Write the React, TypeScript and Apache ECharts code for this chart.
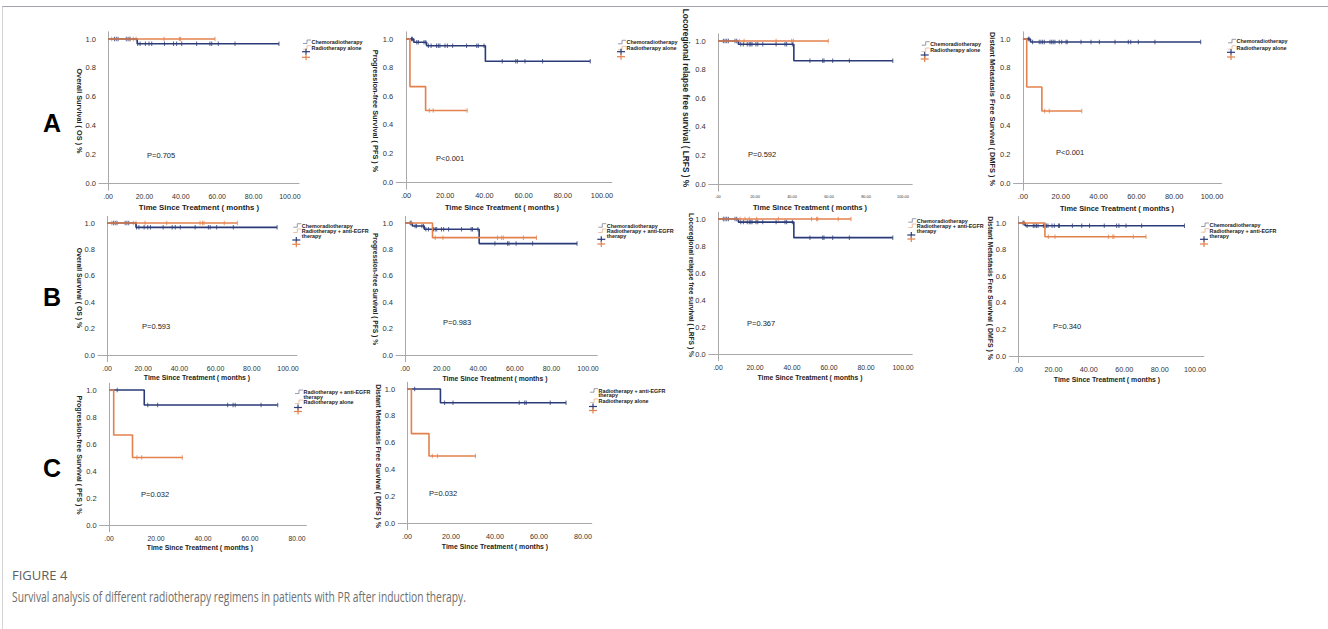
import React, { useEffect, useRef } from "react";
import * as echarts from "echarts";

// ---------------- DATA ----------------
// events: [time (months), survival after the event]; censored: censoring times; end: last follow-up
// Chemoradiotherapy
const crtOsEvents = [[16, 0.967]];
const crtOsCensored = [3.5, 4.5, 5.5, 10, 11, 12, 16.3, 17.6, 20.5, 22.5, 24, 31, 36, 37.7, 40.5, 48.7, 56, 57, 60.6, 69.8, 94];
const crtOsEnd = 94;
const crtPfsEvents = [[4, 0.977], [10.5, 0.953], [40.5, 0.844]];
const crtPfsCensored = [2.8, 3.3, 5.5, 6.3, 9.2, 10.1, 11.4, 12.8, 15.6, 16.5, 17.3, 19.9, 21.1, 23.8, 30.9, 36.1, 36.9, 39.8, 49.1, 56, 56.8, 60.7, 69.7, 94];
const crtPfsEnd = 94;
const crtLrfsEvents = [[11, 0.977], [41, 0.862]];
const crtLrfsCensored = [2.9, 3.8, 4.7, 5.6, 9.2, 10.1, 12.3, 13.7, 15.8, 16.9, 17.7, 18.4, 20.5, 21.5, 24.2, 31.4, 36.2, 37.1, 40.2, 49.7, 56.6, 57.3, 62, 71, 94.5];
const crtLrfsEnd = 94.5;
const crtDmfsEvents = [[4, 0.979]];
const crtDmfsCensored = [2.8, 3.3, 5.1, 8.6, 9.5, 10.4, 11.3, 14.3, 15.2, 16.0, 16.9, 19.2, 20.5, 22.8, 23.4, 30.7, 36.0, 40.4, 48.7, 55.7, 57.0, 61.0, 69.8, 94];
const crtDmfsEnd = 94;
// Radiotherapy alone
const rtOsEvents: number[][] = [];
const rtOsCensored = [2.0, 12.1, 13.9, 15.4, 30.8, 39.2, 39.9, 58.8];
const rtOsEnd = 58.8;
const rtPfsEvents = [[2, 0.667], [10, 0.5]];
const rtPfsCensored = [11.9, 13.9, 31.2];
const rtPfsEnd = 31.2;
const rtLrfsEvents: number[][] = [];
const rtLrfsCensored = [11.5, 14.1, 31.4, 39.8, 40.7, 59.6];
const rtLrfsEnd = 59.6;
const rtDmfsEvents = [[2, 0.667], [10, 0.5]];
const rtDmfsCensored = [11.5, 13.9, 31.1];
const rtDmfsEnd = 31.1;
// Radiotherapy + anti-EGFR therapy
const egfrOsEvents: number[][] = [];
const egfrOsCensored = [2.6, 14.5, 16.0, 21.0, 33.0, 51.4, 52.8, 53.6, 64.8, 72.0];
const egfrOsEnd = 72;
const egfrPfsEvents = [[15, 0.889]];
const egfrPfsCensored = [3.5, 16.5, 20.7, 50.5, 52.8, 53.7, 64.7, 71.8];
const egfrPfsEnd = 71.8;
const egfrLrfsEvents: number[][] = [];
const egfrLrfsCensored = [2.9, 11.9, 14.6, 16.9, 20.9, 32.6, 50.6, 53.3, 53.9, 65.0, 71.9];
const egfrLrfsEnd = 71.9;
const egfrDmfsEvents = [[15.2, 0.897]];
const egfrDmfsCensored = [3.5, 17.1, 20.9, 51.0, 53.5, 54.2, 65.1, 72.3];
const egfrDmfsEnd = 72.3;

const pValues = ["P=0.705", "P<0.001", "P=0.592", "P<0.001", "P=0.593", "P=0.983", "P=0.367", "P=0.340", "P=0.032", "P=0.032"];
const xTicks100 = [0, 20, 40, 60, 80, 100];
const xTicks80 = [0, 20, 40, 60, 80];
const yTicks = [0, 0.2, 0.4, 0.6, 0.8, 1.0];

const yTitles = [
  "Overall Survival ( OS ) %",
  "Progression-free Survival ( PFS ) %",
  "Locoregional relapse free survival ( LRFS ) %",
  "Distant Metastasis Free Survival ( DMFS ) %",
];
const xTitle = "Time Since Treatment ( months )";
const legendA = ["Chemoradiotherapy", "Radiotherapy alone"];
const legendB = ["Chemoradiotherapy", "Radiotherapy + anti-EGFR", "therapy"];
const legendC = ["Radiotherapy + anti-EGFR", "therapy", "Radiotherapy alone"];

// ---------------- STYLE / LAYOUT ----------------
const BLUE = "#2a3b78";
const ORANGE = "#e3814c";
const AXIS = "#a9a9a9";
const FONT = "'Liberation Sans', Arial, sans-serif";
const CAPFONT = "'Open Sans', 'Liberation Sans', sans-serif";

type Curve = { events: number[][]; censored: number[]; end: number };
const cv = (events: number[][], censored: number[], end: number): Curve => ({ events, censored, end });

const panels = [
  { g: [99, 31.8, 200, 158.4], xr: [-5, 105], blue: cv(crtOsEvents, crtOsCensored, crtOsEnd), orange: cv(rtOsEvents, rtOsCensored, rtOsEnd), yt: 0, ytPos: [79, 111, 7.3], xtPos: [199, 207, 7.8], p: [147, 155], leg: legendA, lg: [303, [42, 47.7], [51.7, 57.3]], xl: 7, glyph: [0, 1] },
  { g: [396.2, 31.85, 215.6, 157.3], xr: [-5, 105], blue: cv(crtPfsEvents, crtPfsCensored, crtPfsEnd), orange: cv(rtPfsEvents, rtPfsCensored, rtPfsEnd), yt: 1, ytPos: [375, 111, 7.3], xtPos: [502, 207, 7.4], p: [436, 158], leg: legendA, lg: [618, [42.3, 48.3], [51.7, 56.7]], xl: 7.3, glyph: [0, 1] },
  { g: [708.75, 33.85, 203.5, 157.3], xr: [-5, 105], blue: cv(crtLrfsEvents, crtLrfsCensored, crtLrfsEnd), orange: cv(rtLrfsEvents, rtLrfsCensored, rtLrfsEnd), yt: 2, ytPos: [686, 98, 8.3], xtPos: [810, 207, 7.4], p: [748, 154], leg: legendA, lg: [921.7, [43.7, 50], [55, 59]], xl: 3.9, glyph: [0, 1] },
  { g: [1013.5, 31.8, 208, 158.4], xr: [-5, 105], blue: cv(crtDmfsEvents, crtDmfsCensored, crtDmfsEnd), orange: cv(rtDmfsEvents, rtDmfsCensored, rtDmfsEnd), yt: 3, ytPos: [992, 109, 7.4], xtPos: [1117, 208, 7.4], p: [1056, 152], leg: legendA, lg: [1228, [41.3, 47.7], [52.3, 57]], xl: 7.4, glyph: [0, 1] },
  { g: [98, 216.4, 199, 145.2], xr: [-5, 105], blue: cv(crtOsEvents, crtOsCensored, crtOsEnd), orange: cv(egfrOsEvents, egfrOsCensored, egfrOsEnd), yt: 0, ytPos: [79, 288, 6.9], xtPos: [197, 377, 6.9], p: [142, 326], leg: legendB, lg: [293.3, [225.7, 231, 236.3], [240, 244.3]], xl: 7, glyph: [0, 1, -1] },
  { g: [395.9, 216.4, 201.3, 145.2], xr: [-5, 105], blue: cv(crtPfsEvents, crtPfsCensored, crtPfsEnd), orange: cv(egfrPfsEvents, egfrPfsCensored, egfrPfsEnd), yt: 1, ytPos: [375, 289, 6.7], xtPos: [495, 378, 6.8], p: [443, 322], leg: legendB, lg: [598.3, [225.7, 231, 236], [239.3, 244]], xl: 7, glyph: [0, 1, -1] },
  { g: [708.75, 212.25, 203.5, 148.5], xr: [-5, 105], blue: cv(crtLrfsEvents, crtLrfsCensored, crtLrfsEnd), orange: cv(egfrLrfsEvents, egfrLrfsCensored, egfrLrfsEnd), yt: 2, ytPos: [691, 285, 6.7], xtPos: [810, 377, 6.8], p: [747, 323], leg: legendB, lg: [908.3, [220.7, 226, 231], [235, 239]], xl: 6.9, glyph: [0, 1, -1] },
  { g: [1009.2, 216.35, 194.7, 146.3], xr: [-5, 105], blue: cv(crtDmfsEvents, crtDmfsCensored, crtDmfsEnd), orange: cv(egfrDmfsEvents, egfrDmfsCensored, egfrDmfsEnd), yt: 3, ytPos: [990, 288, 6.9], xtPos: [1107, 379, 6.9], p: [1053, 326], leg: legendB, lg: [1201, [225, 230.7, 236], [239.3, 244]], xl: 7.2, glyph: [0, 1, -1] },
  { g: [99.6, 383.25, 206.8, 148.5], xr: [-4, 84], blue: cv(egfrPfsEvents, egfrPfsCensored, egfrPfsEnd), orange: cv(rtPfsEvents, rtPfsCensored, rtPfsEnd), yt: 1, ytPos: [79, 455, 7.1], xtPos: [200, 547, 6.9], p: [141, 494], leg: legendC, lg: [295, [392, 396.5, 402], [407.5, 411.5]], xl: 6.8, glyph: [0, -1, 1] },
  { g: [398.2, 382.3, 193.6, 147.4], xr: [-4, 84], blue: cv(egfrDmfsEvents, egfrDmfsCensored, egfrDmfsEnd), orange: cv(rtDmfsEvents, rtDmfsCensored, rtDmfsEnd), yt: 3, ytPos: [378, 456, 6.9], xtPos: [495, 546, 6.9], p: [429, 493], leg: legendC, lg: [590, [390.7, 395.3, 401], [406.5, 410.5]], xl: 7.2, glyph: [0, -1, 1] },
];

function survAt(events: number[][], t: number) {
  let s = 1;
  for (const [et, es] of events) if (et <= t) s = es;
  return s;
}
function stepData(c: Curve) {
  const last = c.events.length ? c.events[c.events.length - 1][1] : 1;
  return [[0, 1], ...c.events, [c.end, last]];
}

function txt(x: number, y: number, text: string, size: number, opts: any = {}) {
  const align = opts.align || "center";
  return {
    type: "text",
    x,
    y,
    rotation: opts.rotation || 0,
    scaleX: opts.scaleX || 1,
    silent: true,
    style: {
      text,
      fontSize: size,
      fontWeight: opts.weight || "normal",
      fontFamily: opts.family || FONT,
      fill: opts.fill || "#222",
      align,
      textAlign: align,
      verticalAlign: "middle",
      textVerticalAlign: "middle",
    },
  };
}

function buildOption() {
  const grid: any[] = [];
  const xAxis: any[] = [];
  const yAxis: any[] = [];
  const series: any[] = [];
  const graphic: any[] = [];

  panels.forEach((p, i) => {
    grid.push({ left: p.g[0], top: p.g[1], width: p.g[2], height: p.g[3], containLabel: false });
    const ticks = p.xr[1] > 90 ? xTicks100 : xTicks80;
    xAxis.push({
      type: "value",
      gridIndex: i,
      min: p.xr[0],
      max: p.xr[1],
      axisLine: { show: true, lineStyle: { color: AXIS, width: 1 } },
      axisTick: { show: false, customValues: ticks },
      splitLine: { show: false },
      axisLabel: {
        customValues: ticks,
        fontSize: p.xl,
        fontFamily: FONT,
        color: "#333",
        margin: 3,
        formatter: (v: number) => (v === 0 ? ".00" : v.toFixed(2)),
      },
    });
    yAxis.push({
      type: "value",
      gridIndex: i,
      min: -0.05,
      max: 1.05,
      axisLine: { show: true, lineStyle: { color: AXIS, width: 1 } },
      axisTick: { show: false, customValues: yTicks },
      splitLine: { show: false },
      axisLabel: {
        customValues: yTicks,
        fontSize: 7.5,
        fontFamily: FONT,
        color: "#333",
        margin: 3,
        formatter: (v: number) => v.toFixed(1),
      },
    });
    const curves: [Curve, string][] = [[p.blue, BLUE], [p.orange, ORANGE]];
    curves.forEach(([c, color]) => {
      series.push({
        type: "line",
        xAxisIndex: i,
        yAxisIndex: i,
        step: "end",
        symbol: "none",
        silent: true,
        data: stepData(c),
        lineStyle: { color, width: 1.6 },
      });
      series.push({
        type: "scatter",
        xAxisIndex: i,
        yAxisIndex: i,
        symbol: "rect",
        symbolSize: [1, 4.5],
        silent: true,
        itemStyle: { color },
        data: c.censored.map((t) => [t, survAt(c.events, t)]),
      });
    });

    // axis titles
    graphic.push(txt(p.ytPos[0], p.ytPos[1], yTitles[p.yt], p.ytPos[2], { weight: "bold", rotation: -Math.PI / 2 }));
    graphic.push(txt(p.xtPos[0], p.xtPos[1], xTitle, p.xtPos[2], { weight: "bold" }));
    // p value
    graphic.push(txt(p.p[0], p.p[1], pValues[i], 7.5, { align: "left" }));
    // legend
    const gx = p.lg[0] as number;
    const ys = p.lg[1] as number[];
    const pys = p.lg[2] as number[];
    p.leg.forEach((label, k) => {
      const y = ys[k];
      const gl = p.glyph[k];
      if (gl >= 0) {
        graphic.push({
          type: "polyline",
          silent: true,
          shape: { points: [[gx, y + 1.5], [gx + 4, y + 1.5], [gx + 4, y - 2], [gx + 8, y - 2]] },
          style: { stroke: gl === 0 ? "#7d8397" : "#eab08e", lineWidth: 0.8, fill: "none" },
        });
      }
      graphic.push(txt(gx + 8.5, y, label, 5.4, { weight: "bold", align: "left" }));
    });
    [BLUE, ORANGE].forEach((col, k) => {
      const cx = gx + 3;
      const cy = pys[k];
      graphic.push({ type: "line", silent: true, shape: { x1: cx - 4, y1: cy, x2: cx + 4, y2: cy }, style: { stroke: col, lineWidth: 1.2 } });
      graphic.push({ type: "line", silent: true, shape: { x1: cx, y1: cy - 3, x2: cx, y2: cy + 3 }, style: { stroke: col, lineWidth: 1.2 } });
    });
  });

  // panel letters
  graphic.push(txt(52, 123, "A", 25, { weight: "bold", fill: "#000" }));
  graphic.push(txt(52, 297, "B", 25, { weight: "bold", fill: "#000" }));
  graphic.push(txt(52, 468, "C", 25, { weight: "bold", fill: "#000" }));
  // frame
  graphic.push({ type: "line", silent: true, shape: { x1: 2, y1: 6.5, x2: 1328, y2: 6.5 }, style: { stroke: "#a3a3ad", lineWidth: 1 } });
  graphic.push({ type: "line", silent: true, shape: { x1: 2.5, y1: 6.5, x2: 2.5, y2: 629 }, style: { stroke: "#d4d4d4", lineWidth: 1 } });
  // caption
  graphic.push(txt(12, 575, "FIGURE 4", 13, { align: "left", family: CAPFONT, fill: "#5e5e5e" }));
  graphic.push(txt(12, 597, "Survival analysis of different radiotherapy regimens in patients with PR after induction therapy.", 14.5, { align: "left", family: CAPFONT, fill: "#6e6e6e", scaleX: 0.71 }));

  return { animation: false, backgroundColor: "#fff", grid, xAxis, yAxis, series, graphic };
}

export default function App() {
  const ref = useRef<HTMLDivElement>(null);
  useEffect(() => {
    if (!ref.current) return;
    const chart = echarts.init(ref.current, null, { renderer: "svg" });
    chart.setOption(buildOption() as any);
    return () => chart.dispose();
  }, []);
  return (
    <div
      ref={ref}
      style={{ position: "absolute", left: 0, top: 0, width: 1328, height: 629, background: "#fff" }}
    />
  );
}
